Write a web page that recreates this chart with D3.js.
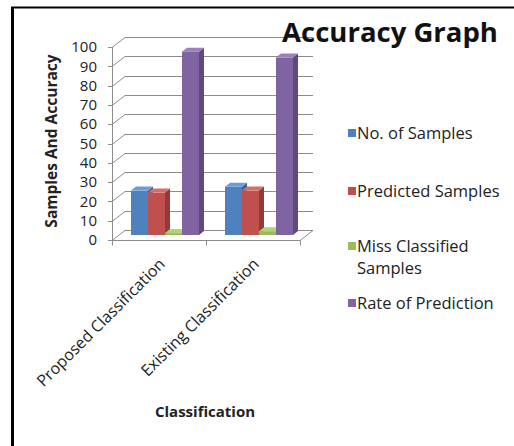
<!DOCTYPE html>
<html>
<head>
<style>
html, body { margin: 0; padding: 0; background: #fff; overflow: hidden; }
svg { display: block; font-family: "Open Sans", sans-serif; }
</style>
</head>
<body>
<svg width="514" height="446"></svg>
<script src="https://cdnjs.cloudflare.com/ajax/libs/d3/7.8.5/d3.min.js"></script>
<script>
// data
let categories = ["Proposed Classification", "Existing Classification"];
let seriesNames = ["No. of Samples", "Predicted Samples", "Miss Classified Samples", "Rate of Prediction"];
let noOfSamples = [23, 25];
let predictedSamples = [22, 23];
let missClassified = [1, 2];
let rateOfPrediction = [95, 92];
let yTicks = [0, 10, 20, 30, 40, 50, 60, 70, 80, 90, 100];

let colors = ["#4f81bd", "#c0504d", "#9bbb59", "#8064a2"];
let sides = ["#3a6290", "#923b39", "#76913f", "#5f4a7b"];
let tops = ["#6d9bd6", "#d46e6b", "#b4d17a", "#9a80bd"];

let allSeries = [noOfSamples, predictedSamples, missClassified, rateOfPrediction];

let svg = d3.select("svg");

// frame
svg.append("line").attr("x1", 12.5).attr("x2", 12.5).attr("y1", 7).attr("y2", 446)
    .attr("stroke", "#000").attr("stroke-width", 3);
svg.append("line").attr("x1", 11).attr("x2", 514).attr("y1", 7.5).attr("y2", 7.5)
    .attr("stroke", "#000").attr("stroke-width", 2);

let left = 112, right = 300;
let dx = 13, dy = -10;   // depth of the 3d box

let x0 = d3.scaleBand().domain(categories).range([left, right]);
let x1 = d3.scaleBand().domain(seriesNames).range([0, 68]);
let y = d3.scaleLinear().domain([0, 100]).range([240, 47]);

// back wall gridlines + left side diagonals
let grid = svg.append("g").attr("stroke", "#8c8c8c").attr("stroke-width", 1).attr("fill", "none");
yTicks.forEach(t => {
    let yy = Math.round(y(t)) + 0.5;
    grid.append("line").attr("x1", left + dx).attr("x2", right + dx)
        .attr("y1", yy + dy).attr("y2", yy + dy);
    grid.append("line").attr("x1", left).attr("x2", left + dx)
        .attr("y1", yy).attr("y2", yy + dy);
    grid.append("line").attr("x1", left - 4).attr("x2", left)
        .attr("y1", yy).attr("y2", yy);
});
grid.append("line").attr("x1", left + 0.5).attr("x2", left + 0.5)
    .attr("y1", y(100)).attr("y2", y(0));
// floor
let fy = Math.round(y(0)) + 0.5;
grid.append("line").attr("x1", left).attr("x2", right).attr("y1", fy).attr("y2", fy);
grid.append("line").attr("x1", right).attr("x2", right + dx).attr("y1", fy).attr("y2", fy + dy);
x0.domain().concat([null]).forEach((c, i) => {
    let xx = Math.round(left + i * x0.bandwidth()) + 0.5;
    grid.append("line").attr("x1", xx).attr("x2", xx).attr("y1", fy).attr("y2", fy + 5);
});

// bars, front face at mid depth
let mdx = 6, mdy = -5;
let bdx = 5, bdy = -4;
let bars = svg.append("g");
categories.forEach((c, ci) => {
    seriesNames.forEach((s, si) => {
        let v = allSeries[si][ci];
        let bx = x0(c) + (x0.bandwidth() - 68) / 2 + x1(s) + mdx;
        let bw = x1.bandwidth();
        let by = y(v) + mdy;
        let bb = y(0) + mdy;
        bars.append("rect").attr("x", bx).attr("y", by).attr("width", bw).attr("height", bb - by)
            .attr("fill", colors[si]);
        bars.append("path")
            .attr("d", `M${bx + bw},${by}L${bx + bw + bdx},${by + bdy}L${bx + bw + bdx},${bb + bdy}L${bx + bw},${bb}Z`)
            .attr("fill", sides[si]);
        bars.append("path")
            .attr("d", `M${bx},${by}L${bx + bdx},${by + bdy}L${bx + bw + bdx},${by + bdy}L${bx + bw},${by}Z`)
            .attr("fill", tops[si]);
    });
});

// y tick labels
svg.append("g").selectAll("text").data(yTicks).join("text")
    .attr("x", 97).attr("y", d => y(d)).attr("dy", "0.35em")
    .attr("text-anchor", "end").attr("font-size", 15).attr("fill", "#222")
    .text(d => d);

// category labels
svg.append("g").selectAll("text").data(categories).join("text")
    .attr("transform", d => `translate(${x0(d) + x0.bandwidth() / 2 + 7},${265}) rotate(-45)`)
    .attr("text-anchor", "end").attr("font-size", 16).attr("fill", "#222")
    .text(d => d);

// axis titles
svg.append("text").attr("transform", "translate(57,141) rotate(-90)")
    .attr("text-anchor", "middle").attr("font-size", 15.5).attr("font-weight", "bold").attr("fill", "#222")
    .text("Samples And Accuracy");
svg.append("text").attr("x", 205).attr("y", 417)
    .attr("text-anchor", "middle").attr("font-size", 15).attr("font-weight", "bold").attr("fill", "#222")
    .text("Classification");

// title
svg.append("text").attr("x", 390).attr("y", 42)
    .attr("text-anchor", "middle").attr("font-size", 27.5).attr("font-weight", "bold").attr("fill", "#111")
    .text("Accuracy Graph");

// legend
let legendRows = [["No. of Samples"], ["Predicted Samples"], ["Miss Classified", "Samples"], ["Rate of Prediction"]];
let legendY = [133, 191, 246, 303];
let lg = svg.append("g");
legendRows.forEach((lines, i) => {
    lg.append("rect").attr("x", 348).attr("y", legendY[i] - 4).attr("width", 8).attr("height", 8)
        .attr("fill", colors[i]);
    lines.forEach((t, j) => {
        lg.append("text").attr("x", 357).attr("y", legendY[i] + j * 22).attr("dy", "0.35em")
            .attr("font-size", 16.5).attr("fill", "#222").text(t);
    });
});
</script>
</body>
</html>
